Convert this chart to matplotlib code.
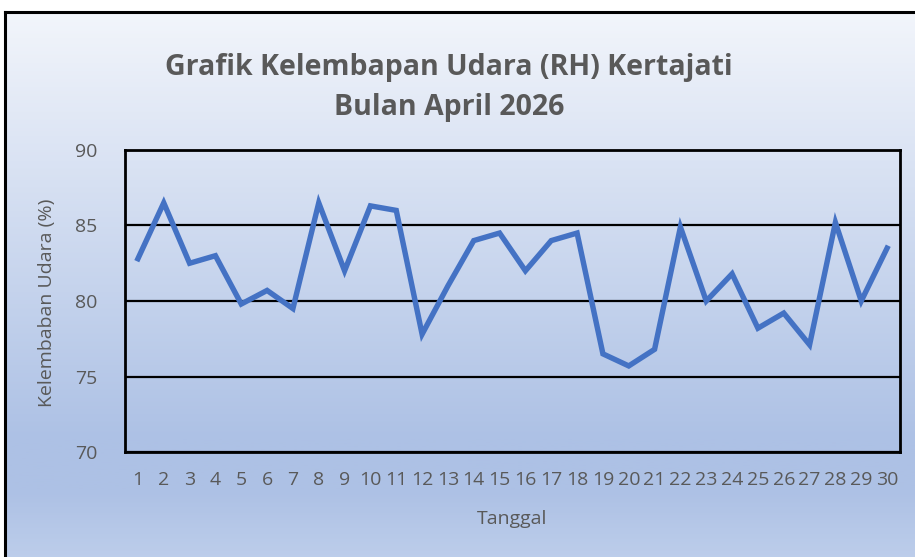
import numpy as np
import matplotlib
matplotlib.use("Agg")
import matplotlib.pyplot as plt
from matplotlib.colors import LinearSegmentedColormap

days = list(range(1, 31))
rh = [82.8, 86.5, 82.5, 83.0, 79.8, 80.7, 79.5, 86.5, 82.0, 86.3,
      86.0, 77.8, 81.0, 84.0, 84.5, 82.0, 84.0, 84.5, 76.5, 75.7,
      76.8, 84.9, 80.0, 81.8, 78.2, 79.2, 77.1, 85.2, 80.0, 83.5]
yticks = [70, 75, 80, 85, 90]
title_lines = ["Grafik Kelembapan Udara (RH) Kertajati", "Bulan April 2026"]
xlabel = "Tanggal"
ylabel = "Kelembaban Udara (%)"

plt.rcParams['font.family'] = ['Open Sans', 'DejaVu Sans']

W, H = 915, 557
fig = plt.figure(figsize=(W / 100, H / 100), dpi=100)
fig.patch.set_facecolor('white')

# background gradient (chart area), top at y=12 px, extends beyond bottom
bg = fig.add_axes([0, 0, 1, 1], zorder=-10)
bg.set_xlim(0, W)
bg.set_ylim(H, 0)
bg.axis('off')
cmap = LinearSegmentedColormap.from_list(
    'g', [(0.0, '#F2F5FB'), (0.74, '#ADC1E5'), (0.83, '#ADC1E5'), (1.0, '#C4D3ED')])
grad = np.linspace(0, 1, 400).reshape(-1, 1)
bg.imshow(grad, cmap=cmap, aspect='auto', extent=[5, W + 5, 590, 12], zorder=0)
bg.plot([5, 5], [12, H + 5], color='black', lw=2.2, solid_capstyle='projecting')
bg.plot([5, W + 5], [12, 12], color='black', lw=2.2, solid_capstyle='projecting')

ax = fig.add_axes([125 / W, 1 - 452 / H, 775 / W, 302 / H])
ax.set_facecolor('none')
ax.plot(days, rh, color='#4472C4', lw=3.9, solid_joinstyle='miter', zorder=3)
ax.set_xlim(0.5, 30.5)
ax.set_ylim(70, 90)
ax.set_yticks(yticks)
ax.set_xticks(days)
ax.set_xticklabels([str(d) for d in days])
ax.grid(axis='y', color='black', lw=1.6, zorder=1)
ax.set_axisbelow(True)
for s in ax.spines.values():
    s.set_color('black')
    s.set_linewidth(2.0)
ax.tick_params(axis='both', length=0, labelsize=14, colors='#595959')
ax.tick_params(axis='x', pad=14)
ax.tick_params(axis='y', pad=20)
ax.set_xlabel(xlabel, fontsize=14, color='#595959')
ax.set_ylabel(ylabel, fontsize=14, color='#595959')
ax.xaxis.set_label_coords(0.5, (452 - 519) / 302)
ax.xaxis.label.set_va('center')
ax.yaxis.set_label_coords((47 - 125) / 775, (452 - 303) / 302)
ax.yaxis.label.set_va('center')
ax.yaxis.label.set_ha('center')

fig.text(449 / W, 1 - 75 / H, title_lines[0], ha='center', va='baseline',
         fontsize=20.5, fontweight='bold', color='#595959')
fig.text(449 / W, 1 - 115 / H, title_lines[1], ha='center', va='baseline',
         fontsize=20.5, fontweight='bold', color='#595959')

fig.savefig('out.png', dpi=100)
